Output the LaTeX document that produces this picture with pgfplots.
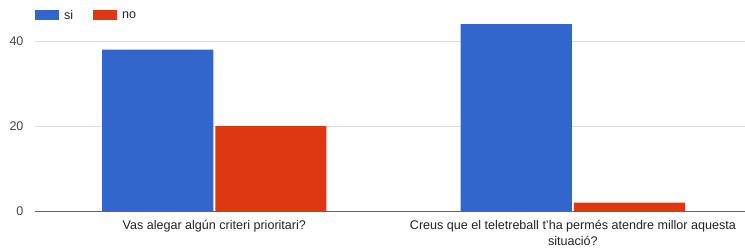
\documentclass[border=0pt]{standalone}
\usepackage{fontspec}
\setmainfont{Liberation Sans}
\usepackage{pgfplots}
\pgfplotsset{compat=1.18}
\definecolor{gblue}{HTML}{3366CC}
\definecolor{gred}{HTML}{DC3912}
\definecolor{ggrid}{HTML}{DDDDDD}
\definecolor{gtext}{HTML}{222222}
\definecolor{gtick}{HTML}{444444}
\begin{document}
\begin{tikzpicture}[x=1bp,y=1bp]
\path[use as bounding box] (0,0) rectangle (745,249);
\begin{axis}[
  at={(35bp,38bp)}, anchor=south west,
  scale only axis, width=710bp, height=206bp,
  ybar, bar width=0.31, bar shift auto,
  xmin=-0.5, xmax=1.48, ymin=0, ymax=48.5,
  xtick={0,1}, xticklabels={Vas alegar algún criteri prioritari?,{Creus que el teletreball t'ha permés atendre millor aquesta\\situació?}},
  xticklabel style={align=center, text=gtext, font=\fontsize{12.6}{16.5}\selectfont, yshift=-1bp},
  ytick={0,20,40},
  yticklabel style={text=gtick, font=\fontsize{12.6}{15}\selectfont, xshift=-8bp},
  /pgf/number format/assume math mode=true,
  ymajorgrids, grid style={ggrid, line width=0.8bp},
  axis line style={draw=none},
  tick style={draw=none},
  axis x line*=bottom,
  legend style={at={(0,1)}, anchor=north west, xshift=-3bp, yshift=-1bp, draw=none, fill=none, legend columns=2,
     font=\fontsize{12.6}{15}\selectfont, text=gtext,
     /tikz/every odd column/.append style={column sep=3bp},
     /tikz/every even column/.append style={column sep=18bp}},
  legend image code/.code={\fill[#1] (0bp,-5bp) rectangle (24bp,5bp);},
  clip=false,
]
\addplot[fill=gblue, draw=none] coordinates {(0,38) (1,44)};
\addplot[fill=gred, draw=none] coordinates {(0,20) (1,2)};
\legend{si,no}
\draw[gray!80!black, line width=0.8bp] (rel axis cs:0,0) -- (rel axis cs:1,0);
\end{axis}
\end{tikzpicture}
\end{document}
